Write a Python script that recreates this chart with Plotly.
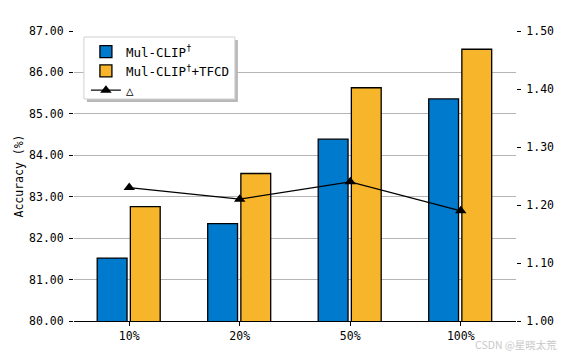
import plotly.graph_objects as go

categories = ["10%", "20%", "50%", "100%"]
mul_clip = [81.52, 82.35, 84.39, 85.36]
mul_clip_tfcd = [82.76, 83.56, 85.63, 86.56]
delta = [1.23, 1.21, 1.24, 1.19]
left_ticks = [80, 81, 82, 83, 84, 85, 86, 87]
right_ticks = [1.0, 1.1, 1.2, 1.3, 1.4, 1.5]

FONT = "DejaVu Sans Mono"
L, R, T, B = 74, 47, 31, 35
W, H = 566, 356
PW, PH = W - L - R, H - T - B


def px_x(p):
    return (p - L) / PW


def px_y(p):
    return (H - B - p) / PH


fig = go.Figure()
fig.add_trace(go.Bar(x=categories, y=mul_clip, name="Mul-CLIP<sup>†</sup>",
                     marker=dict(color="#007acc", line=dict(color="black", width=1.3)),
                     width=0.27, offset=-0.29))
fig.add_trace(go.Bar(x=categories, y=mul_clip_tfcd, name="Mul-CLIP<sup>†</sup>+TFCD",
                     marker=dict(color="#f7b52c", line=dict(color="black", width=1.3)),
                     width=0.27, offset=0.01))
fig.add_trace(go.Scatter(x=categories, y=delta, name="△", yaxis="y2", mode="lines+markers",
                         line=dict(color="black", width=1.2),
                         marker=dict(symbol="triangle-up", size=10, color="black")))

# legend frame + shadow
fig.add_shape(type="rect", xref="paper", yref="paper",
              x0=px_x(87), x1=px_x(239), y0=px_y(102), y1=px_y(40),
              fillcolor="#b8b8b8", line=dict(width=0), layer="above")
fig.add_shape(type="rect", xref="paper", yref="paper",
              x0=px_x(84), x1=px_x(236), y0=px_y(99), y1=px_y(37),
              fillcolor="white", line=dict(width=1, color="#d0d0d0"), layer="above")

fig.update_layout(
    width=W, height=H,
    margin=dict(l=L, r=R, t=T, b=B),
    plot_bgcolor="white", paper_bgcolor="white",
    font=dict(family=FONT, size=11.5, color="black"),
    showlegend=True,
    legend=dict(x=px_x(86), y=px_y(37), xanchor="left", yanchor="top",
                bgcolor="rgba(0,0,0,0)", borderwidth=0,
                font=dict(family=FONT, size=12.5), tracegroupgap=0,
                itemwidth=30),
    xaxis=dict(range=[-0.5, 3.5], showline=True, linecolor="black", linewidth=1.3,
               ticks="outside", ticklen=4, tickcolor="black", showgrid=False,
               tickfont=dict(family=FONT, size=11.5)),
    yaxis=dict(range=[80, 87], tickvals=left_ticks, tickformat=".2f",
               ticks="outside", ticklen=4, tickcolor="black", ticklabelstandoff=3,
               tickfont=dict(family=FONT, size=11.5),
               showgrid=True, gridcolor="#b5b5b5", gridwidth=1, zeroline=False,
               title=dict(text="Accuracy (%)", standoff=3, font=dict(family=FONT, size=11.5))),
    yaxis2=dict(range=[1.0, 1.5], tickvals=right_ticks, tickformat=".2f",
                overlaying="y", side="right", showgrid=False, zeroline=False,
                tickfont=dict(family=FONT, size=11.5), ticklabelstandoff=3,
                ticks="outside", ticklen=4, tickcolor="black"),
    annotations=[dict(text="CSDN @星晓太荒", xref="paper", yref="paper", x=px_x(562), y=px_y(344),
                      xanchor="right", yanchor="middle", showarrow=False,
                      font=dict(family="Noto Sans CJK SC", size=10.5, color="#c8c8c8"))],
)
fig.write_html("out.html", config={"displayModeBar": False},
               post_script="document.body.style.margin='0';")
